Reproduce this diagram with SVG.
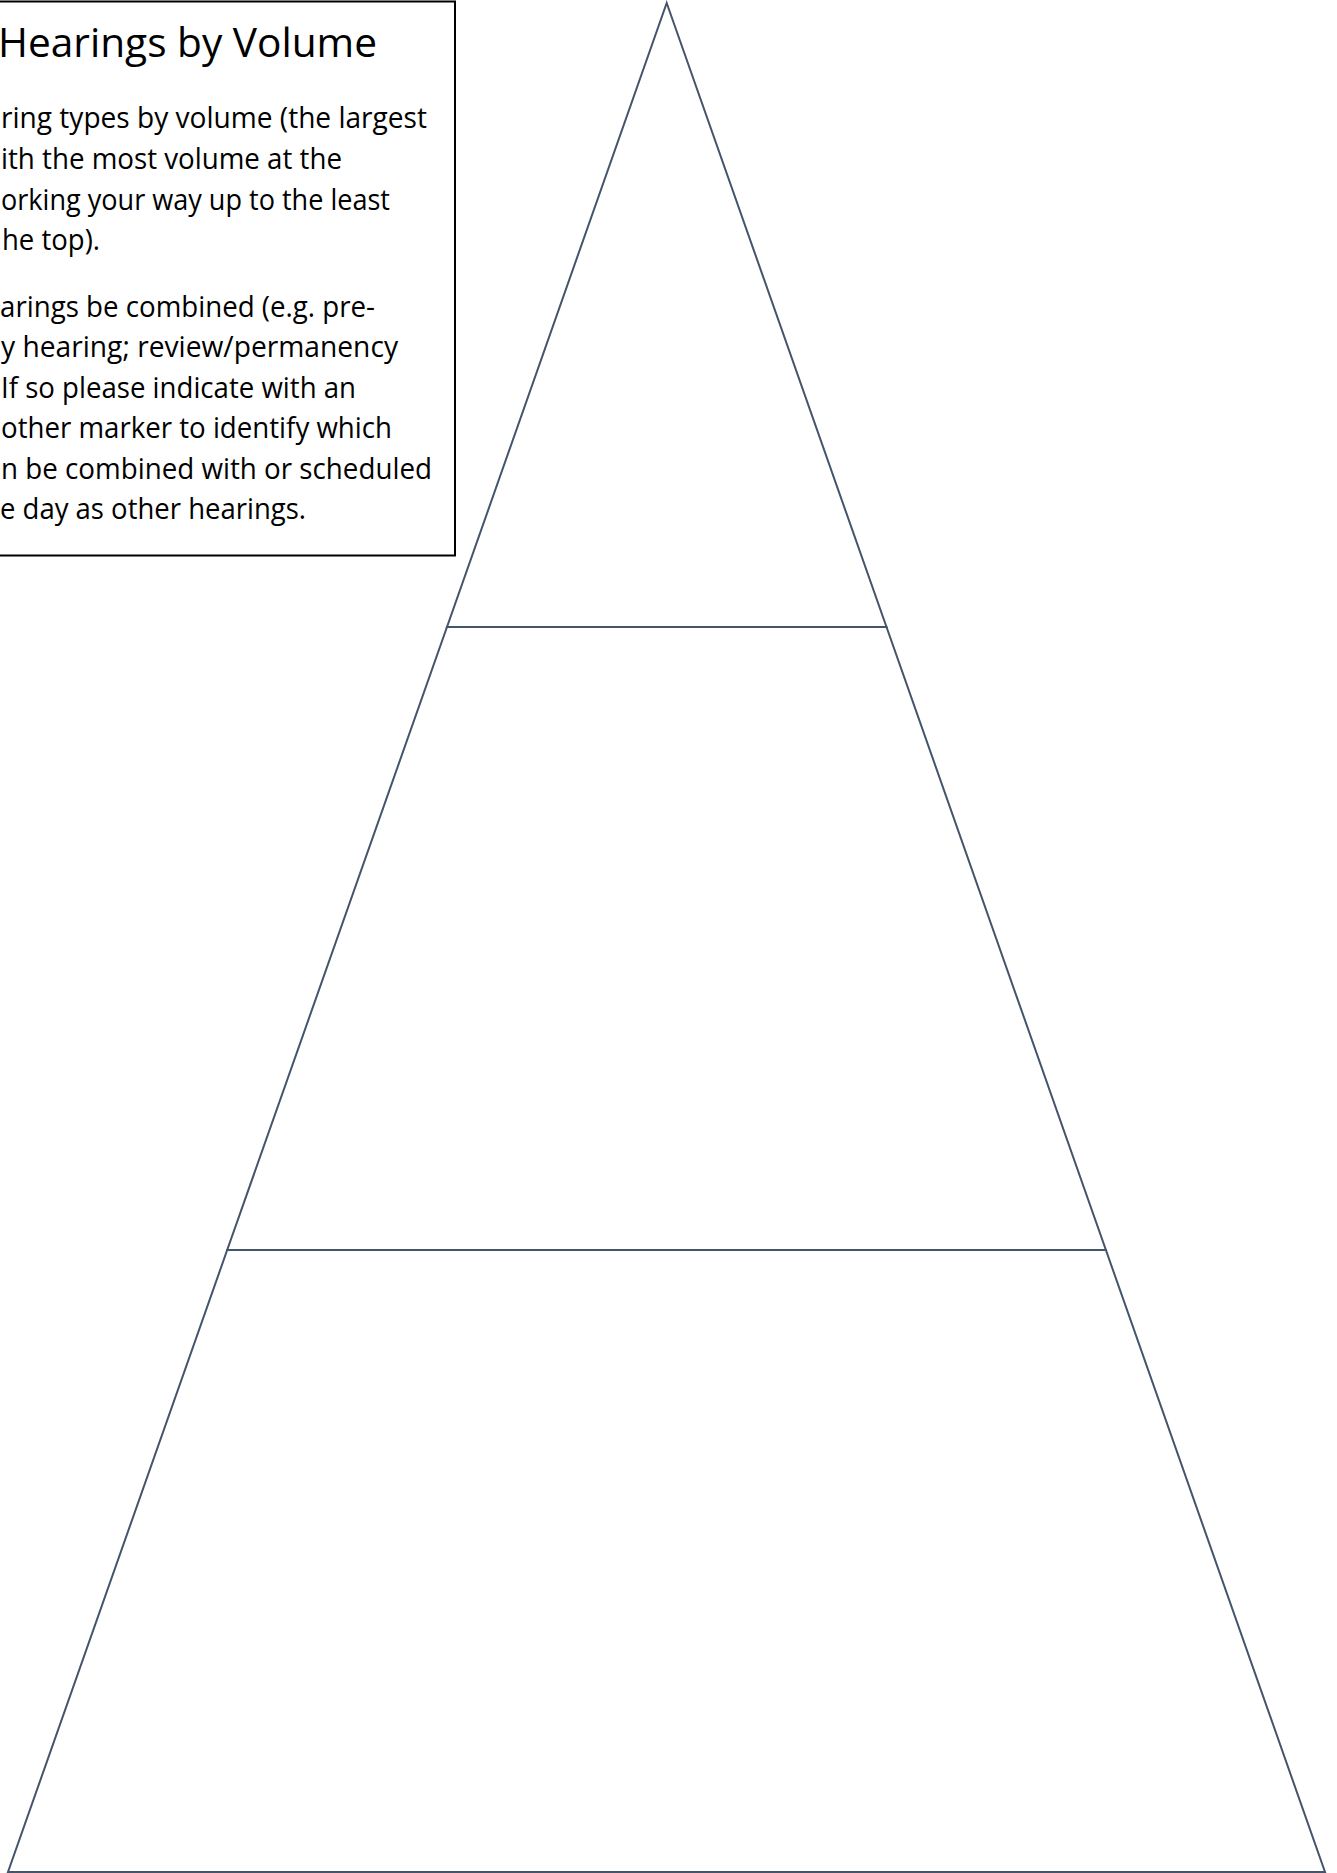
<svg xmlns="http://www.w3.org/2000/svg" width="1337" height="1873" viewBox="0 0 1337 1873">
<style>
.tier{fill:#ffffff;stroke:#44546A;stroke-width:2;stroke-linejoin:miter}
.box{fill:#ffffff;stroke:#000000;stroke-width:2}
.title{font-family:"Open Sans","Liberation Sans",sans-serif;font-size:39.5px;fill:#000000}
.body{font-family:"Open Sans","Liberation Sans",sans-serif;font-size:29.5px;fill:#000000}
</style>
<rect width="1337" height="1873" fill="#ffffff"/>
<g id="tier-top">
<polygon class="tier" points="666.7,3 886.5,627 447,627"/>
</g>
<g id="tier-middle">
<polygon class="tier" points="447,627 886.5,627 1105.9,1250 227.2,1250"/>
</g>
<g id="tier-bottom">
<polygon class="tier" points="227.2,1250 1105.9,1250 1325,1872 8,1872"/>
</g>
<g id="instructions">
<rect class="box" x="-10" y="1.5" width="465" height="554"/>
<text class="title" x="-2" y="56.5" textLength="379" lengthAdjust="spacingAndGlyphs">Hearings by Volume</text>
<text class="body" x="1" y="128" textLength="426" lengthAdjust="spacingAndGlyphs">ring types by volume (the largest</text>
<text class="body" x="1" y="169" textLength="341" lengthAdjust="spacingAndGlyphs">ith the most volume at the</text>
<text class="body" x="1" y="210" textLength="389" lengthAdjust="spacingAndGlyphs">orking your way up to the least</text>
<text class="body" x="2" y="250" textLength="98" lengthAdjust="spacingAndGlyphs">he top).</text>
<text class="body" x="0" y="317" textLength="375" lengthAdjust="spacingAndGlyphs">arings be combined (e.g. pre-</text>
<text class="body" x="1" y="357" textLength="397" lengthAdjust="spacingAndGlyphs">y hearing; review/permanency</text>
<text class="body" x="1" y="398" textLength="355" lengthAdjust="spacingAndGlyphs">If so please indicate with an</text>
<text class="body" x="1" y="438" textLength="391" lengthAdjust="spacingAndGlyphs">other marker to identify which</text>
<text class="body" x="1" y="479" textLength="431" lengthAdjust="spacingAndGlyphs">n be combined with or scheduled</text>
<text class="body" x="0" y="519" textLength="306" lengthAdjust="spacingAndGlyphs">e day as other hearings.</text>
</g>
</svg>
